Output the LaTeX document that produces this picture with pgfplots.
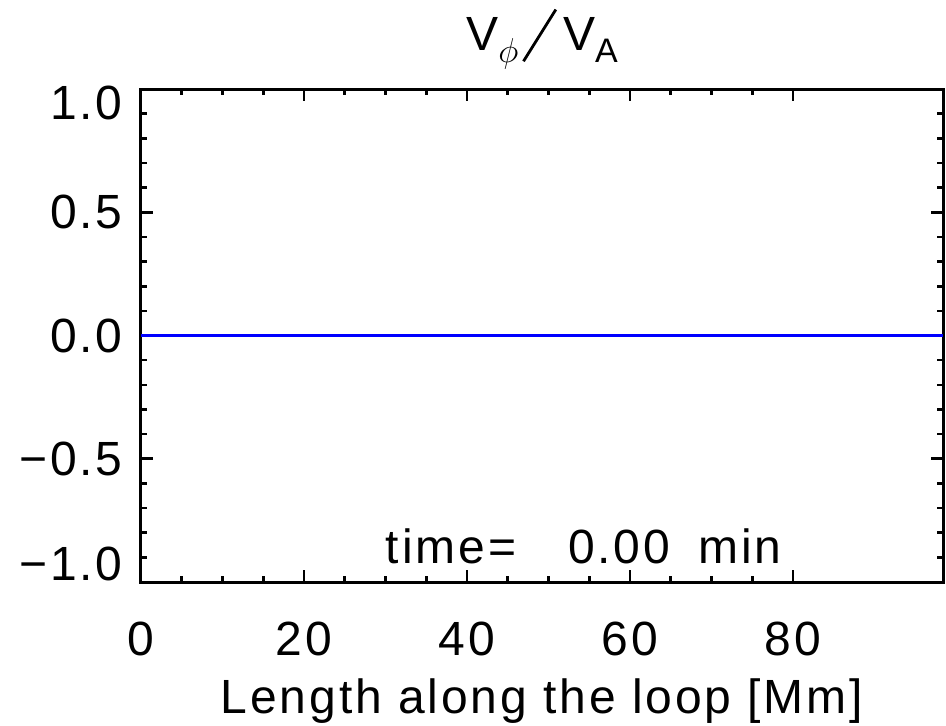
\documentclass[border=0pt]{standalone}
\usepackage{fontspec}
\setmainfont{Liberation Sans}[LetterSpace=6]
\usepackage{graphicx}
\usepackage{pgfplots}
\pgfplotsset{compat=1.18}

\newcommand{\sub}[1]{\raisebox{-6pt}{\fontsize{17}{20}\selectfont #1}}
% long thin slash used in the title
\newcommand{\longslash}{\raisebox{-6pt}{\rotatebox{58}{\rule{30.5pt}{1.4pt}}}}

\begin{document}
\fontsize{24}{28}\selectfont
\begin{tikzpicture}
% fixed page frame around the plot box
\useasboundingbox (-70.5pt,-71.5pt) rectangle (402.5pt,291pt);
\begin{axis}[
  at={(0,0)}, anchor=south west,
  scale only axis,
  width=401pt, height=246.5pt,
  xmin=0, xmax=98.4,
  ymin=-1, ymax=1,
  axis line style={black, line width=1.5pt},
  every tick/.style={black, line width=1.3pt},
  major tick length=6pt,
  minor tick length=3pt,
  tick align=inside,
  xtick={0,20,40,60,80},
  xticklabels={0,20,40,60,80},
  minor x tick num=3,
  ytick={-1,-0.5,0,0.5,1},
  yticklabels={\raisebox{9pt}[\height][\depth]{−1.0},−0.5,0.0,0.5,\raisebox{-7pt}[\height][\depth]{1.0}},
  minor y tick num=4,
  xticklabel style={anchor=base, yshift=-36.5pt, inner sep=0pt},
  yticklabel style={anchor=east, xshift=-9pt, inner sep=0pt},
  title={V\sub{$\phi$}\hspace{2pt}\longslash\hspace{3pt}V\sub{A}},
  title style={at={(0.5,1)}, anchor=base, yshift=13.5pt, inner sep=0pt},
  xlabel={Length along the loop [Mm]},
  xlabel style={at={(0.5,0)}, anchor=base, yshift=-65.5pt, inner sep=0pt},
  clip=false,
]
\addplot[color={rgb,255:red,0;green,0;blue,255}, line width=1.5pt] coordinates {
  (0,0) (10,0) (20,0) (30,0) (40,0) (50,0) (60,0) (70,0) (80,0) (90,0) (98.4,0)
};
\node[anchor=base west, inner sep=0pt] at (axis cs:30,-0.923)
  {time=\hspace{26pt}0.00\hspace{14pt}min};
\end{axis}
\end{tikzpicture}
\end{document}
